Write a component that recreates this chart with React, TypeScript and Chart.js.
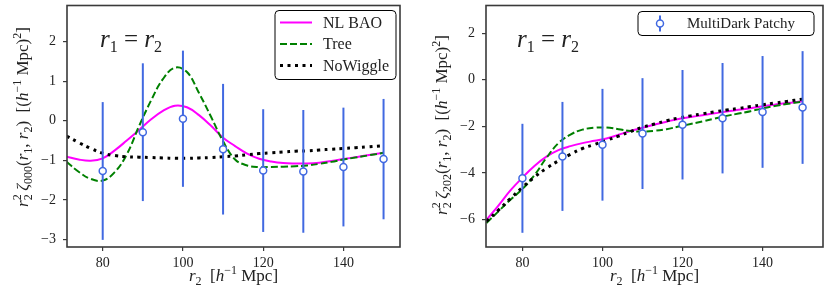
import React, { useEffect, useRef } from 'react';
import { Chart, registerables } from 'chart.js';
Chart.register(...registerables);

// ---------- data ----------
const curveR = [71, 74, 77, 80, 83, 86, 89, 92, 95, 98, 101, 104, 107, 110, 113, 116, 119, 122, 125, 128, 131, 134, 137, 140, 143, 146, 150];

const monoNL = [-0.91, -0.98, -1.01, -0.95, -0.75, -0.5, -0.24, 0.03, 0.25, 0.38, 0.34, 0.14, -0.13, -0.43, -0.64, -0.83, -0.96, -1.03, -1.07, -1.08, -1.08, -1.06, -1.02, -0.97, -0.92, -0.87, -0.81];
const monoTree = [-1.04, -1.29, -1.47, -1.51, -1.3, -0.85, -0.15, 0.5, 1.05, 1.34, 1.23, 0.7, 0.1, -0.52, -0.98, -1.13, -1.17, -1.17, -1.16, -1.15, -1.13, -1.09, -1.04, -0.98, -0.93, -0.88, -0.81];
const monoNoWiggle = [-0.39, -0.55, -0.7, -0.82, -0.88, -0.91, -0.92, -0.93, -0.94, -0.95, -0.95, -0.94, -0.93, -0.91, -0.89, -0.86, -0.83, -0.81, -0.79, -0.77, -0.76, -0.74, -0.72, -0.7, -0.68, -0.66, -0.63];

const quadNL = [-6.02, -5.4, -4.75, -4.2, -3.7, -3.3, -3.02, -2.85, -2.72, -2.62, -2.52, -2.36, -2.2, -2.06, -1.92, -1.8, -1.68, -1.6, -1.52, -1.44, -1.36, -1.29, -1.22, -1.14, -1.07, -1.0, -0.92];
const quadTree = [-6.15, -5.65, -5.15, -4.69, -4.1, -3.35, -2.72, -2.35, -2.14, -2.06, -2.05, -2.12, -2.2, -2.22, -2.19, -2.12, -2.01, -1.9, -1.79, -1.67, -1.55, -1.45, -1.35, -1.23, -1.13, -1.04, -0.94];
const quadNoWiggle = [-6.08, -5.6, -5.1, -4.62, -4.18, -3.8, -3.48, -3.2, -2.95, -2.78, -2.6, -2.42, -2.22, -2.04, -1.9, -1.76, -1.64, -1.55, -1.46, -1.38, -1.3, -1.23, -1.15, -1.07, -1.0, -0.93, -0.83];

const pointR = [80, 90, 100, 110, 120, 130, 140, 150];
const monoMean = [-1.27, -0.29, 0.05, -0.72, -1.26, -1.28, -1.17, -0.97];
const monoErr = [1.74, 1.74, 1.72, 1.65, 1.55, 1.55, 1.5, 1.52];
const quadMean = [-4.23, -3.29, -2.79, -2.31, -1.93, -1.65, -1.38, -1.19];
const quadErr = [2.34, 2.34, 2.4, 2.38, 2.35, 2.37, 2.4, 2.42];

const xTicks = [80, 100, 120, 140];
const monoYTicks = [-3, -2, -1, 0, 1, 2];
const quadYTicks = [-6, -4, -2, 0, 2];

const lineLabels = ['NL BAO', 'Tree', 'NoWiggle'];
const pointLabel = 'MultiDark Patchy';

// ---------- style ----------
const SERIF = '"Liberation Serif", "DejaVu Serif", serif';
const MAGENTA = '#ff00ff';
const GREEN = '#008000';
const BLACK = '#000000';
const BLUE = '#4169e1';
const FRAME = '#3a3a3a';
const TEXT = '#222222';
const DOT_DASH = [3, 4.5];
const TREE_DASH = [7, 3];

type Seg = { t: string; it?: boolean; s?: number; dy?: number; noAdv?: boolean };

function segFont(seg: Seg, base: number) {
  return `${seg.it ? 'italic ' : ''}${seg.s ?? base}px ${SERIF}`;
}
function richWidth(ctx: CanvasRenderingContext2D, segs: Seg[], base: number) {
  let w = 0;
  for (const s of segs) {
    ctx.font = segFont(s, base);
    if (!s.noAdv) w += ctx.measureText(s.t).width;
  }
  return w;
}
function drawRich(ctx: CanvasRenderingContext2D, segs: Seg[], x: number, y: number, base: number, align: 'left' | 'center') {
  let cx = align === 'center' ? x - richWidth(ctx, segs, base) / 2 : x;
  ctx.textAlign = 'left';
  ctx.textBaseline = 'alphabetic';
  for (const s of segs) {
    ctx.font = segFont(s, base);
    ctx.fillText(s.t, cx, y + (s.dy ?? 0));
    if (!s.noAdv) cx += ctx.measureText(s.t).width;
  }
}

const yTitleSegs = (idx: string): Seg[] => [
  { t: 'r', it: true },
  { t: '2', s: 12, dy: -7, noAdv: true },
  { t: '2', s: 12, dy: 4 },
  { t: '\u2009ζ', it: true },
  { t: idx, s: 12, dy: 4 },
  { t: '(' },
  { t: 'r', it: true },
  { t: '1', s: 12, dy: 4 },
  { t: ', ' },
  { t: 'r', it: true },
  { t: '2', s: 12, dy: 4 },
  { t: ')  [(' },
  { t: 'h', it: true },
  { t: '−1', s: 12, dy: -7 },
  { t: ' Mpc)' },
  { t: '2', s: 12, dy: -7 },
  { t: ']' },
];
const xTitleSegs: Seg[] = [
  { t: 'r', it: true },
  { t: '2', s: 12, dy: 4 },
  { t: '  [' },
  { t: 'h', it: true },
  { t: '−1', s: 12, dy: -7 },
  { t: ' Mpc]' },
];
const annotSegs: Seg[] = [
  { t: 'r', it: true },
  { t: '1', s: 16, dy: 5 },
  { t: ' = ' },
  { t: 'r', it: true },
  { t: '2', s: 16, dy: 5 },
];

function roundRect(ctx: CanvasRenderingContext2D, x: number, y: number, w: number, h: number, r: number) {
  ctx.beginPath();
  ctx.moveTo(x + r, y);
  ctx.lineTo(x + w - r, y);
  ctx.arcTo(x + w, y, x + w, y + r, r);
  ctx.lineTo(x + w, y + h - r);
  ctx.arcTo(x + w, y + h, x + w - r, y + h, r);
  ctx.lineTo(x + r, y + h);
  ctx.arcTo(x, y + h, x, y + h - r, r);
  ctx.lineTo(x, y + r);
  ctx.arcTo(x, y, x + r, y, r);
  ctx.closePath();
}

type Panel = {
  nl: number[]; tree: number[]; nw: number[];
  mean: number[]; err: number[];
  yTicks: number[]; yMin: number; yMax: number; xMin: number; xMax: number;
  plotLeft: number; plotRight: number; plotTop: number; plotBottom: number;
  W: number; H: number;
  idx: string; yTitleX: number; yTitleY: number;
  annotX: number; annotY: number;
  legend: 'lines' | 'points';
  legBox: [number, number, number, number];
  legFont: number;
};

function makeDeco(p: Panel) {
  return {
    id: 'deco',
    beforeDatasetDraw(chart: any, args: any) {
      if (args.index !== 0) return;
      const ctx: CanvasRenderingContext2D = chart.ctx;
      const xs = chart.scales.x, ys = chart.scales.y;
      ctx.save();
      ctx.strokeStyle = BLUE;
      ctx.lineWidth = 2;
      pointR.forEach((r, i) => {
        const px = xs.getPixelForValue(r);
        ctx.beginPath();
        ctx.moveTo(px, ys.getPixelForValue(p.mean[i] - p.err[i]));
        ctx.lineTo(px, ys.getPixelForValue(p.mean[i] + p.err[i]));
        ctx.stroke();
      });
      ctx.restore();
    },
    afterDraw(chart: any) {
      const ctx: CanvasRenderingContext2D = chart.ctx;
      const a = chart.chartArea;
      ctx.save();
      // frame
      ctx.strokeStyle = FRAME;
      ctx.lineWidth = 1.6;
      ctx.strokeRect(a.left, a.top, a.right - a.left, a.bottom - a.top);
      ctx.fillStyle = TEXT;
      // annotation
      drawRich(ctx, annotSegs, p.annotX, p.annotY, 25, 'left');
      // x title
      drawRich(ctx, xTitleSegs, (a.left + a.right) / 2, 281, 17, 'center');
      // y title
      ctx.save();
      ctx.translate(p.yTitleX, p.yTitleY);
      ctx.rotate(-Math.PI / 2);
      drawRich(ctx, yTitleSegs(p.idx), 0, 0, 17, 'center');
      ctx.restore();
      // legend
      const [bx, by, bw, bh] = p.legBox;
      ctx.fillStyle = 'rgba(255,255,255,0.85)';
      roundRect(ctx, bx, by, bw, bh, 4);
      ctx.fill();
      ctx.strokeStyle = '#000';
      ctx.lineWidth = 1;
      ctx.stroke();
      ctx.fillStyle = TEXT;
      ctx.font = `${p.legFont}px ${SERIF}`;
      ctx.textBaseline = 'middle';
      ctx.textAlign = 'left';
      if (p.legend === 'lines') {
        const styles = [
          { c: MAGENTA, w: 2, d: [] as number[] },
          { c: GREEN, w: 2, d: TREE_DASH },
          { c: BLACK, w: 3, d: DOT_DASH },
        ];
        lineLabels.forEach((lab, i) => {
          const y = by + 12 + i * 21.5;
          ctx.beginPath();
          ctx.strokeStyle = styles[i].c;
          ctx.lineWidth = styles[i].w;
          ctx.setLineDash(styles[i].d);
          ctx.moveTo(bx + 5, y);
          ctx.lineTo(bx + 37, y);
          ctx.stroke();
          ctx.setLineDash([]);
          ctx.fillText(lab, bx + 48, y + 1);
        });
      } else {
        const y = by + bh / 2;
        const mx = bx + 22;
        ctx.strokeStyle = BLUE;
        ctx.lineWidth = 2;
        ctx.beginPath();
        ctx.moveTo(mx, y - 8);
        ctx.lineTo(mx, y + 8);
        ctx.stroke();
        ctx.beginPath();
        ctx.arc(mx, y, 3.5, 0, Math.PI * 2);
        ctx.fillStyle = '#fff';
        ctx.fill();
        ctx.lineWidth = 1.5;
        ctx.stroke();
        ctx.fillStyle = TEXT;
        ctx.fillText(pointLabel, bx + 49, y + 1);
      }
      ctx.restore();
    },
  };
}

function makeConfig(p: Panel): any {
  const line = (vals: number[]) => curveR.map((x, i) => ({ x, y: vals[i] }));
  const tickFont = { family: SERIF, size: 14 };
  return {
    type: 'line',
    data: {
      datasets: [
        {
          label: pointLabel,
          data: pointR.map((x, i) => ({ x, y: p.mean[i] })),
          showLine: false,
          pointRadius: 3.5,
          pointBorderWidth: 1.5,
          pointBorderColor: BLUE,
          pointBackgroundColor: '#ffffff',
          order: 0,
        },
        {
          label: lineLabels[2], data: line(p.nw), borderColor: BLACK, borderWidth: 3,
          borderDash: DOT_DASH, borderCapStyle: 'butt', pointRadius: 0, tension: 0.4, order: 1,
        },
        {
          label: lineLabels[1], data: line(p.tree), borderColor: GREEN, borderWidth: 2,
          borderDash: TREE_DASH, pointRadius: 0, tension: 0.4, order: 2,
        },
        {
          label: lineLabels[0], data: line(p.nl), borderColor: MAGENTA, borderWidth: 2,
          pointRadius: 0, tension: 0.4, order: 3,
        },
      ],
    },
    options: {
      responsive: false,
      animation: false,
      devicePixelRatio: 1,
      layout: { padding: { left: 0, top: p.plotTop, right: p.W - p.plotRight, bottom: 0 } },
      plugins: { legend: { display: false }, tooltip: { enabled: false } },
      scales: {
        x: {
          type: 'linear', min: p.xMin, max: p.xMax,
          afterBuildTicks: (s: any) => { s.ticks = xTicks.map((v) => ({ value: v })); },
          afterFit: (s: any) => {
            s.height = p.H - p.plotBottom;
            s.paddingLeft = 0; s.paddingRight = 0; s.paddingTop = 0; s.paddingBottom = 0;
          },
          grid: { display: true, drawOnChartArea: false, drawTicks: true, tickLength: 4, color: FRAME, lineWidth: 1.2 },
          border: { display: false },
          ticks: { font: tickFont, color: TEXT, padding: 4, maxRotation: 0, autoSkip: false },
        },
        y: {
          type: 'linear', min: p.yMin, max: p.yMax,
          afterBuildTicks: (s: any) => { s.ticks = p.yTicks.map((v) => ({ value: v })); },
          afterFit: (s: any) => {
            s.width = p.plotLeft;
            s.paddingLeft = 0; s.paddingRight = 0; s.paddingTop = 0; s.paddingBottom = 0;
          },
          grid: { display: true, drawOnChartArea: false, drawTicks: true, tickLength: 4, color: FRAME, lineWidth: 1.2 },
          border: { display: false },
          ticks: {
            font: tickFont, color: TEXT, padding: 7, autoSkip: false,
            callback: (v: number) => (v < 0 ? '−' + Math.abs(v) : String(v)),
          },
        },
      },
    },
    plugins: [makeDeco(p)],
  };
}

const leftPanel: Panel = {
  nl: monoNL, tree: monoTree, nw: monoNoWiggle, mean: monoMean, err: monoErr,
  yTicks: monoYTicks, yMin: -3.19, yMax: 2.91, xMin: 71.1, xMax: 154.1,
  plotLeft: 67, plotRight: 400, plotTop: 3, plotBottom: 247, W: 415, H: 298,
  idx: '000', yTitleX: 27.5, yTitleY: 117, annotX: 100, annotY: 46.5,
  legend: 'lines', legBox: [275, 10.5, 121, 69], legFont: 16,
};
const rightPanel: Panel = {
  nl: quadNL, tree: quadTree, nw: quadNoWiggle, mean: quadMean, err: quadErr,
  yTicks: quadYTicks, yMin: -7.18, yMax: 3.19, xMin: 70.9, xMax: 155.1,
  plotLeft: 71, plotRight: 408, plotTop: 3, plotBottom: 247, W: 415, H: 298,
  idx: '202', yTitleX: 32, yTitleY: 125, annotX: 102, annotY: 46.5,
  legend: 'points', legBox: [223, 11.5, 176, 24], legFont: 15,
};

function PanelChart({ panel, left }: { panel: Panel; left: number }) {
  const ref = useRef<HTMLCanvasElement | null>(null);
  useEffect(() => {
    if (!ref.current) return;
    const chart = new Chart(ref.current, makeConfig(panel));
    return () => chart.destroy();
  }, [panel]);
  return (
    <canvas
      ref={ref}
      width={panel.W}
      height={panel.H}
      style={{ position: 'absolute', left, top: 0, width: panel.W, height: panel.H }}
    />
  );
}

export default function App() {
  return (
    <div style={{ position: 'absolute', left: 0, top: 0, width: 830, height: 298, background: '#fff' }}>
      <PanelChart panel={leftPanel} left={0} />
      <PanelChart panel={rightPanel} left={415} />
    </div>
  );
}
